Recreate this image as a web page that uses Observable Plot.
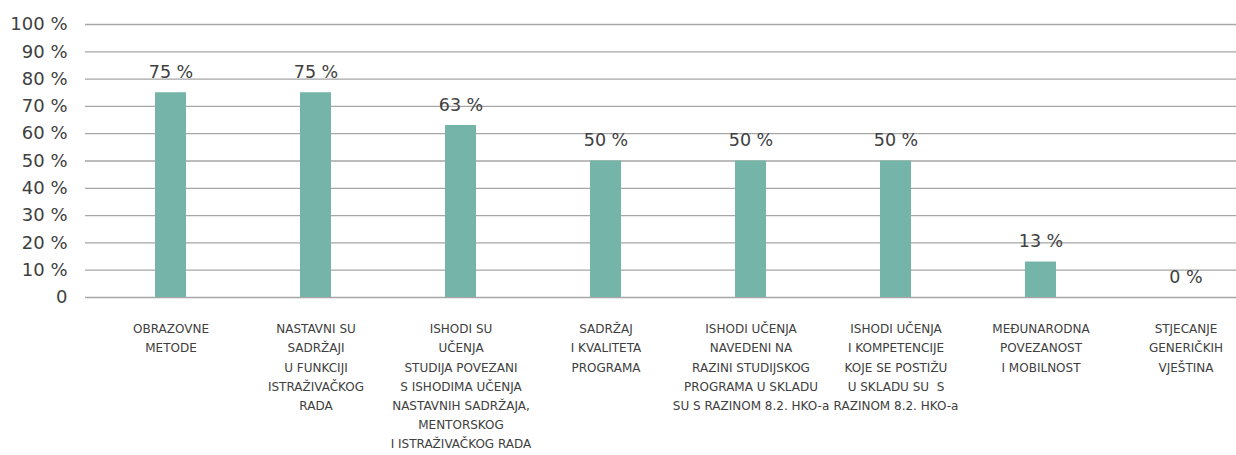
<!DOCTYPE html>
<html>
<head>
<meta charset="utf-8">
<script src="https://cdn.jsdelivr.net/npm/d3@7"></script>
<script src="https://cdn.jsdelivr.net/npm/@observablehq/plot@0.6"></script>
<style>
  html, body { margin: 0; padding: 0; background: #fff; }
  #chart svg { display: block; }
</style>
</head>
<body>
<div id="chart"></div>
<script>
const categories = [
  "OBRAZOVNE\nMETODE",
  "NASTAVNI SU\nSADRŽAJI\nU FUNKCIJI\nISTRAŽIVAČKOG\nRADA",
  "ISHODI SU\nUČENJA\nSTUDIJA POVEZANI\nS ISHODIMA UČENJA\nNASTAVNIH SADRŽAJA,\nMENTORSKOG\nI ISTRAŽIVAČKOG RADA",
  "SADRŽAJ\nI KVALITETA\nPROGRAMA",
  "ISHODI UČENJA\nNAVEDENI NA\nRAZINI STUDIJSKOG\nPROGRAMA U SKLADU\nSU S RAZINOM 8.2. HKO-a",
  "ISHODI UČENJA\nI KOMPETENCIJE\nKOJE SE POSTIŽU\nU SKLADU SU  S\nRAZINOM 8.2. HKO-a",
  "MEĐUNARODNA\nPOVEZANOST\nI MOBILNOST",
  "STJECANJE\nGENERIČKIH\nVJEŠTINA"
];
const values = [75, 75, 63, 50, 50, 50, 13, 0];
const yTicks = [0, 10, 20, 30, 40, 50, 60, 70, 80, 90, 100];

const data = categories.map((c, i) => ({category: c, value: values[i]}));
const font = "DejaVu Sans, sans-serif";

const chart = Plot.plot({
  width: 1236,
  height: 455,
  marginTop: 24,
  marginBottom: 158,
  marginLeft: 85,
  marginRight: 0,
  style: {fontFamily: font, color: "#404040", background: "#fff"},
  x: {domain: categories, range: [85, 1271], paddingInner: 0.787, paddingOuter: 0.463, align: 0.5},
  y: {domain: [0, 100]},
  marks: [
    Plot.ruleY(yTicks, {stroke: "#a6a6a6", strokeWidth: 1.3}),
    Plot.barY(data, {x: "category", y: "value", fill: "#75b4a8"}),
    Plot.text(data, {
      x: "category", y: "value",
      text: d => d.value + " %",
      lineAnchor: "bottom", dy: -15,
      fontSize: 17.5, fill: "#404040"
    }),
    Plot.axisY({
      ticks: yTicks,
      tickSize: 0, tickPadding: 18,
      tickFormat: d => d === 0 ? "0" : d + " %",
      fontSize: 18, fill: "#404040", label: null
    }),
    Plot.axisX({
      tickSize: 0, tickPadding: 22,
      lineAnchor: "top", lineHeight: 1.6,
      fontSize: 12, fill: "#404040", label: null
    })
  ]
});
document.getElementById("chart").appendChild(chart);
</script>
</body>
</html>
